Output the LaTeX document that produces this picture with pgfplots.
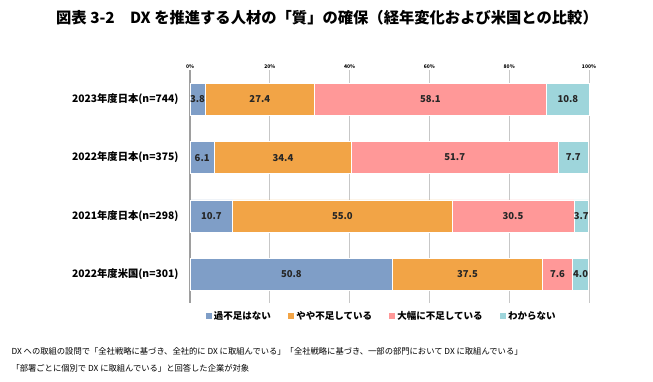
\documentclass[border=0pt]{standalone}
\usepackage{pgfplots}
\pgfplotsset{compat=1.18}
\usepackage{fontspec}
\setmainfont{Noto Sans CJK JP}
\definecolor{cBlue}{RGB}{127,158,199}
\definecolor{cOrange}{RGB}{242,164,70}
\definecolor{cPink}{RGB}{255,152,152}
\definecolor{cCyan}{RGB}{158,213,219}
\begin{document}
\begin{tikzpicture}
\path[use as bounding box] (0,0) rectangle (653pt,-382pt);
\node[font=\fontsize{15.3}{17}\selectfont\bfseries] at (327pt,-18pt) {図表 3-2\quad DX を推進する人材の「質」の確保（経年変化および米国との比較）};
\begin{axis}[
  at={(190pt,-70pt)}, anchor=north west,
  scale only axis, width=399pt, height=233.5pt,
  xbar stacked, bar width=32pt, clip=false,
  xmin=0, xmax=100, ymin=-0.5, ymax=3.5, y dir=reverse,
  ytick={0,1,2,3},
  yticklabels={2023年度日本(n=744),2022年度日本(n=375),2021年度日本(n=298),2022年度米国(n=301)},
  yticklabel style={font=\fontsize{10.3}{12}\selectfont\bfseries, xshift=-8pt},
  xtick={0,20,40,60,80,100},
  xticklabel={\pgfmathprintnumber{\tick}\%},
  xticklabel pos=upper,
  xticklabel style={font=\fontsize{5}{6}\selectfont\bfseries, yshift=-2pt},
  /pgf/number format/assume math mode=true,
  xmajorgrids, grid style={black!22, line width=1pt},
  extra x ticks={0}, extra x tick labels={},
  extra x tick style={grid style={black!38, line width=1.3pt}},
  axis line style={draw=none}, tick style={draw=none},
  every axis plot/.append style={draw=white, line width=0.6pt},
  visualization depends on={rawx \as \rawx},
  nodes near coords={\pgfmathprintnumber[fixed,fixed zerofill,precision=1]{\rawx}},
  every node near coord/.append style={anchor=center, inner sep=0pt, font=\fontsize{9.5}{10}\selectfont\bfseries, text=black!85},
  legend columns=4,
  area legend,
  legend image code/.code={\fill[#1,draw=none] (0pt,-3.2pt) rectangle (6.4pt,3.2pt);},
  legend style={draw=none, fill=none, at={(0.48,-0.015)}, anchor=north, font=\fontsize{9.5}{11}\selectfont\bfseries, /tikz/every even column/.append style={column sep=15pt}},
]
\addplot[fill=cBlue] coordinates {(3.8,0) (6.1,1) (10.7,2) (50.8,3)};
\addplot[fill=cOrange] coordinates {(27.4,0) (34.4,1) (55.0,2) (37.5,3)};
\addplot[fill=cPink] coordinates {(58.1,0) (51.7,1) (30.5,2) (7.6,3)};
\addplot[fill=cCyan] coordinates {(10.8,0) (7.7,1) (3.7,2) (4.0,3)};
\legend{過不足はない,やや不足している,大幅に不足している,わからない}
\end{axis}
\node[anchor=west, font=\fontsize{8.3}{10}\selectfont] at (8pt,-351pt) {DX への取組の設問で「全社戦略に基づき、全社的に DX に取組んでいる」「全社戦略に基づき、一部の部門において DX に取組んでいる」};
\node[anchor=west, font=\fontsize{8.3}{10}\selectfont] at (8pt,-368pt) {「部署ごとに個別で DX に取組んでいる」と回答した企業が対象};
\end{tikzpicture}
\end{document}
